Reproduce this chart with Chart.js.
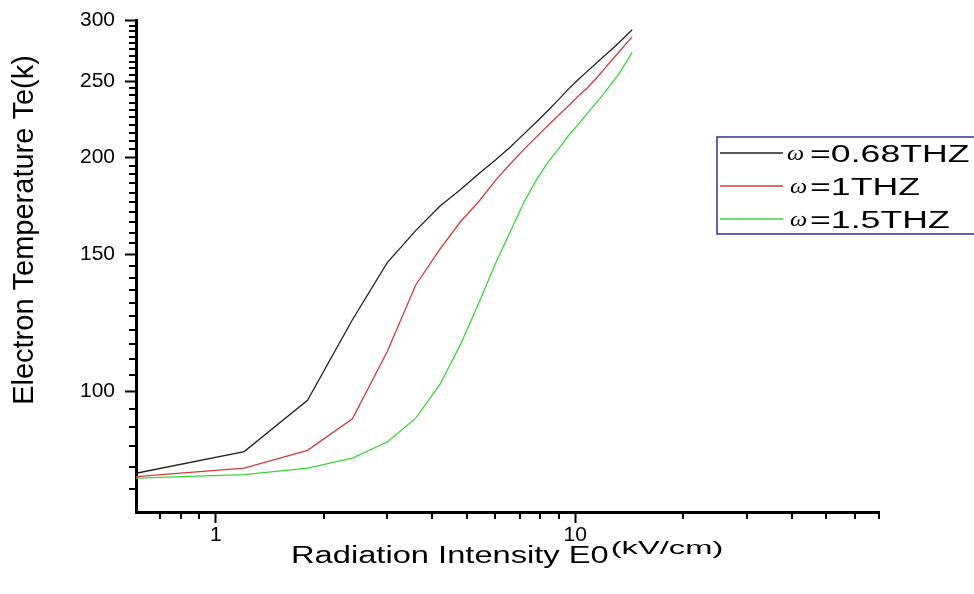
<!DOCTYPE html>
<html>
<head>
<meta charset="utf-8">
<script src="https://cdn.jsdelivr.net/npm/chart.js@4/dist/chart.umd.min.js"></script>
<style>
	html, body { margin: 0; padding: 0; background: #fff; overflow: hidden; }
</style>
</head>
<body>
<canvas id="grafico" width="974" height="594"></canvas>
<script>
var campo = [0.6, 1.2, 1.8, 2.4, 3.0, 3.6, 4.2, 4.8, 5.4, 6.0, 6.6, 7.2,
             7.8, 8.4, 9.0, 9.6, 10.2, 10.8, 11.4, 12.0, 12.6, 13.2, 13.8, 14.4];

var te068 = [78.5, 83.7, 97.4, 123.6, 146.4, 160.9, 172.9, 181.7, 190.5, 198.3, 206.1, 214.2,
             221.9, 229.6, 237.2, 244.9, 251.6, 257.7, 263.5, 269.3, 274.7, 280.3, 285.9, 291.4];
var te1   = [77.7, 79.7, 84.0, 92.2, 112.5, 137.0, 152.2, 165.3, 175.5, 186.7, 196.1, 204.6,
             212.3, 219.6, 226.5, 233.0, 239.6, 245.4, 252.0, 259.0, 265.9, 272.5, 279.1, 285.4];
var te15  = [77.4, 78.2, 79.7, 82.1, 86.1, 92.4, 102.0, 115.0, 130.1, 146.0, 160.5, 175.0,
             187.0, 197.0, 205.1, 213.5, 220.3, 227.6, 234.4, 241.1, 248.4, 255.5, 263.9, 272.6];

var legendas = ['\u03c9 =0.68THZ', '\u03c9 =1THZ', '\u03c9 =1.5THZ'];
var cores = ['#222222', '#d43a3a', '#3ad63a'];

var xTicks = [1, 10];
var xMinor = [0.7, 0.8, 0.9, 2, 3, 4, 5, 6, 7, 8, 9, 20, 30, 40, 50, 60, 70];
var yTicks = [100, 150, 200, 250, 300];

var tituloY = 'Electron Temperature Te(k)';
var tituloX = 'Radiation Intensity E0';
var unidadeX = '(kV/cm)';

function pontos(valores) {
	return campo.map(function(x, i) { return {x: x, y: valores[i]}; });
}

function textoEsticado(ctx, texto, x, y, fonte, sx) {
	ctx.save();
	ctx.font = fonte;
	ctx.translate(x, y);
	ctx.scale(sx, 1);
	ctx.textAlign = 'left';
	ctx.textBaseline = 'alphabetic';
	ctx.fillText(texto, 0, 0);
	var w = ctx.measureText(texto).width * sx;
	ctx.restore();
	return w;
}

// marcas menores dos eixos
var marcasMenores = {
	id: 'marcasMenores',
	afterDraw: function(chart) {
		var ctx = chart.ctx, sx = chart.scales.x, sy = chart.scales.y;
		ctx.save();
		ctx.strokeStyle = '#000';
		ctx.lineWidth = 2;
		ctx.beginPath();
		xMinor.forEach(function(v) {
			var px = Math.round(sx.getPixelForValue(v));
			ctx.moveTo(px, sx.top);
			ctx.lineTo(px, sx.top + 7);
		});
		for (var v = 75; v < 300; v += 5) {
			if (yTicks.indexOf(v) >= 0) continue;
			var py = Math.round(sy.getPixelForValue(v));
			ctx.moveTo(sy.right, py);
			ctx.lineTo(sy.right - 7, py);
		}
		ctx.stroke();
		ctx.restore();
	}
};

// titulos dos eixos e legenda
var titulos = {
	id: 'titulos',
	afterDraw: function(chart) {
		var ctx = chart.ctx, a = chart.chartArea;
		ctx.save();
		ctx.fillStyle = '#000';

		ctx.save();
		ctx.translate(a.left - 103, a.top + 210);
		ctx.rotate(-Math.PI / 2);
		ctx.font = '29px "Liberation Sans", Arial, sans-serif';
		ctx.textAlign = 'center';
		ctx.textBaseline = 'alphabetic';
		ctx.fillText(tituloY, 0, 0);
		ctx.restore();

		var w = textoEsticado(ctx, tituloX, a.left + 155, a.bottom + 51,
			'23px "Liberation Sans", Arial, sans-serif', 1.42);
		textoEsticado(ctx, unidadeX, a.left + 157 + w, a.bottom + 42,
			'19px "Liberation Sans", Arial, sans-serif', 1.72);

		// legenda
		var bx = a.right - 162, by = a.top + 117;
		ctx.strokeStyle = '#32329a';
		ctx.lineWidth = 1.5;
		ctx.strokeRect(bx, by, 300, 97);
		chart.data.datasets.forEach(function(ds, i) {
			var ly = by + 16 + i * 33;
			ctx.strokeStyle = ds.borderColor;
			ctx.lineWidth = 1.3;
			ctx.beginPath();
			ctx.moveTo(bx + 3, ly);
			ctx.lineTo(bx + 66, ly);
			ctx.stroke();
			ctx.fillStyle = '#000';
			textoEsticado(ctx, ds.label.charAt(0), bx + 70 + (i ? 3 : 0), ly + 7,
				'italic 21px "Liberation Serif", "Times New Roman", serif', 1.15);
			textoEsticado(ctx, ds.label.substring(2), bx + 93, ly + 8.5,
				'23px "Liberation Sans", Arial, sans-serif', 1.55);
		});
		ctx.restore();
	}
};

var fonteTicks = {family: '"Liberation Sans", Arial, sans-serif', size: 21};

new Chart(document.getElementById('grafico').getContext('2d'), {
	type: 'line',
	data: {
		datasets: [0, 1, 2].map(function(i) {
			return {
				label: legendas[i],
				data: pontos([te068, te1, te15][i]),
				borderColor: cores[i],
				borderWidth: 1.3,
				pointRadius: 0,
				tension: 0,
				fill: false
			};
		})
	},
	options: {
		responsive: false,
		animation: false,
		layout: {padding: {top: 20, right: 95, left: 0, bottom: 0}},
		plugins: {legend: {display: false}, tooltip: {enabled: false}},
		scales: {
			x: {
				type: 'logarithmic',
				min: 0.6,
				max: 70,
				afterBuildTicks: function(s) { s.ticks = xTicks.map(function(v) { return {value: v}; }); },
				afterFit: function(s) { s.height = 82; s.paddingLeft = 0; s.paddingRight = 0; },
				ticks: {
					autoSkip: false, maxRotation: 0, color: '#000', padding: 0, font: fonteTicks,
					callback: function(v) { return String(v); }
				},
				grid: {drawOnChartArea: false, tickLength: 11, tickWidth: 2, tickColor: '#000'},
				border: {display: true, width: 3, color: '#000'}
			},
			y: {
				type: 'logarithmic',
				min: 70,
				max: 300,
				afterBuildTicks: function(s) { s.ticks = yTicks.map(function(v) { return {value: v}; }); },
				afterFit: function(s) { s.width = 136; s.paddingTop = 0; s.paddingBottom = 0; },
				ticks: {
					autoSkip: false, color: '#000', padding: 10, font: fonteTicks,
					callback: function(v) { return String(v); }
				},
				grid: {drawOnChartArea: false, tickLength: 11, tickWidth: 2, tickColor: '#000'},
				border: {display: true, width: 3, color: '#000'}
			}
		}
	},
	plugins: [marcasMenores, titulos]
});
</script>
</body>
</html>
